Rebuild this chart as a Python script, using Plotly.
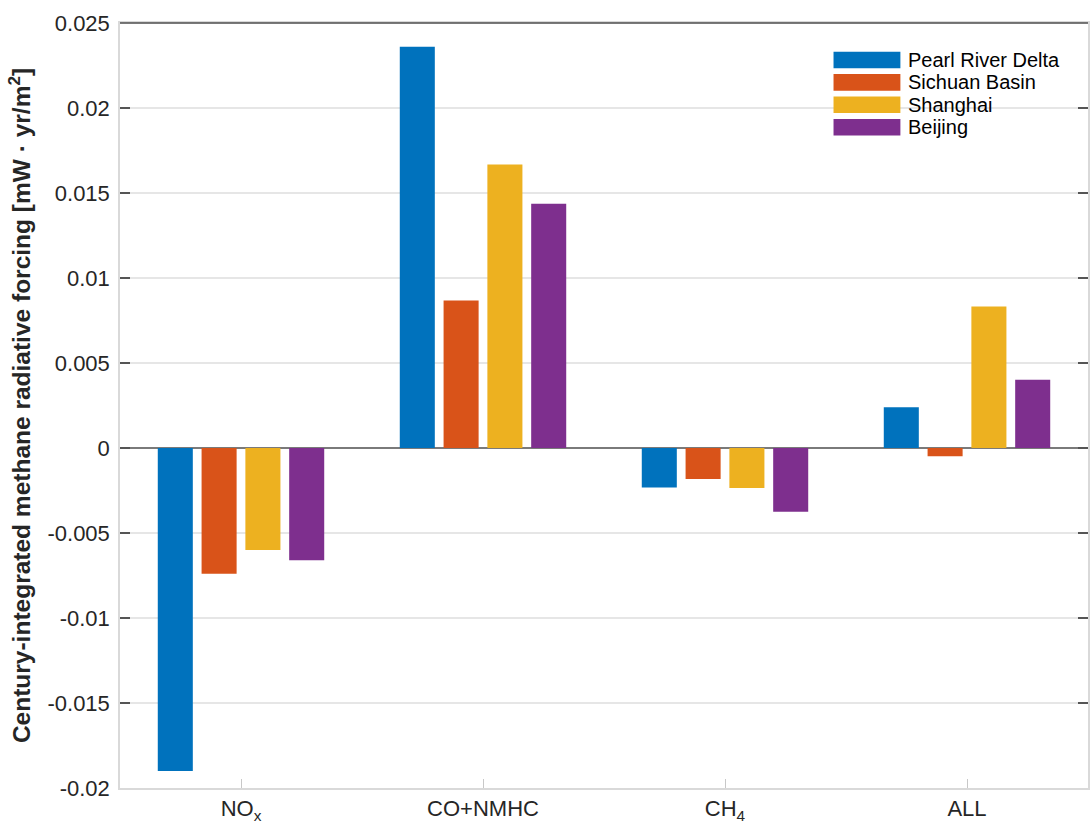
import plotly.graph_objects as go

# Emission categories and regional forcing values [mW·yr/m²]
categories = ["NO<sub>x</sub>", "CO+NMHC", "CH<sub>4</sub>", "ALL"]
regions = ["Pearl River Delta", "Sichuan Basin", "Shanghai", "Beijing"]
colors = ["#0072BD", "#D95319", "#EDB120", "#7E2F8E"]

pearl_river_delta = [-0.0190, 0.0236, -0.00232, 0.00239]
sichuan_basin = [-0.0074, 0.00867, -0.00182, -0.00049]
shanghai = [-0.0060, 0.01667, -0.00235, 0.00833]
beijing = [-0.0066, 0.01437, -0.00375, 0.00402]

series = [pearl_river_delta, sichuan_basin, shanghai, beijing]

y_tickvals = [0.025, 0.02, 0.015, 0.01, 0.005, 0, -0.005, -0.01, -0.015, -0.02]
y_ticktext = ["0.025", "0.02", "0.015", "0.01", "0.005", "0",
              "-0.005", "-0.01", "-0.015", "-0.02"]

FONT = "Liberation Sans, Arial, Helvetica, sans-serif"
W, H = 1092, 827
ML, MR, MT, MB = 120, 2, 23, 39

x_pos = list(range(1, len(categories) + 1))

fig = go.Figure()
for name, vals, col in zip(regions, series, colors):
    fig.add_trace(go.Bar(
        x=x_pos, y=vals, name=name,
        marker=dict(color=col, line=dict(width=0)),
        showlegend=False,
    ))


def px_to_paper(px, py):
    pw = W - ML - MR
    ph = H - MT - MB
    return (px - ML) / pw, (H - MB - py) / ph


# Legend block: wide colour swatches with labels
shapes = []
annotations = []
sw_x0, sw_x1, txt_x = 835, 902, 908
row0, row_step, sw_h = 60, 22.4, 16.6
for i, (name, col) in enumerate(zip(regions, colors)):
    cy = row0 + i * row_step
    x0, y0 = px_to_paper(sw_x0, cy + sw_h / 2)
    x1, y1 = px_to_paper(sw_x1, cy - sw_h / 2)
    shapes.append(dict(type="rect", xref="paper", yref="paper",
                       x0=x0, x1=x1, y0=y0, y1=y1,
                       fillcolor=col, line=dict(width=0), layer="above"))
    tx, ty = px_to_paper(txt_x, cy)
    annotations.append(dict(xref="paper", yref="paper", x=tx, y=ty,
                            xanchor="left", yanchor="middle", showarrow=False,
                            text=name, font=dict(family=FONT, size=20, color="#000000")))

# Dark top border of the axes box
shapes.append(dict(type="line", xref="paper", yref="paper",
                   x0=0, x1=1, y0=1, y1=1,
                   line=dict(color="#4d4d4d", width=1.5), layer="above"))

fig.update_layout(
    width=W, height=H,
    margin=dict(l=ML, r=MR, t=MT, b=MB),
    paper_bgcolor="white", plot_bgcolor="white",
    barmode="group", bargap=0.276, bargroupgap=0.2,
    font=dict(family=FONT, size=22, color="#262626"),
    shapes=shapes, annotations=annotations,
    showlegend=False,
)

fig.update_xaxes(
    range=[0.5, 4.5],
    tickvals=x_pos, ticktext=categories,
    ticks="inside", ticklen=9, tickcolor="#c8c8c8", tickwidth=1,
    showline=True, linecolor="#d9d9d9", linewidth=1.5, mirror=True,
    showgrid=False, zeroline=False,
    tickfont=dict(family=FONT, size=22, color="#262626"),
)

fig.update_yaxes(
    range=[-0.02, 0.025],
    tickvals=y_tickvals, ticktext=y_ticktext,
    ticks="inside", ticklen=10, tickcolor="#555555", tickwidth=1.5,
    ticklabelstandoff=4,
    showline=True, linecolor="#d9d9d9", linewidth=1.5, mirror="ticks",
    showgrid=True, gridcolor="#e6e6e6", gridwidth=1.5,
    zeroline=True, zerolinecolor="#7a7a7a", zerolinewidth=1.5,
    tickfont=dict(family=FONT, size=22, color="#262626"),
    title=dict(text="Century-integrated methane radiative forcing [mW · yr/m<sup>2</sup>]",
               font=dict(family=FONT, size=24.5, color="#262626", weight="bold"),
               standoff=10),
)

fig.write_html("out.html")
